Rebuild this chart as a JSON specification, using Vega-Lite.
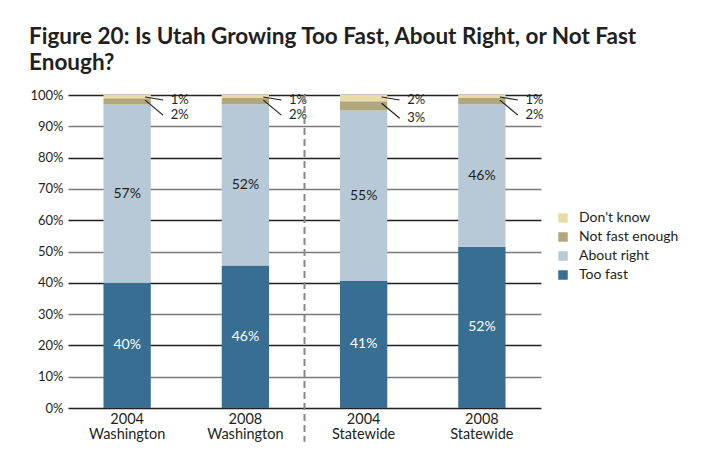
{
  "$schema": "https://vega.github.io/schema/vega-lite/v6.json",
  "width": 473,
  "height": 313,
  "autosize": {"type": "none"},
  "padding": {"left": 68, "top": 95, "right": 161, "bottom": 46},
  "background": "white",
  "title": {
    "text": ["Figure 20: Is Utah Growing Too Fast, About Right, or Not Fast", "Enough?"],
    "anchor": "start",
    "frame": "group",
    "dx": -39,
    "offset": 15,
    "font": "Lato",
    "fontSize": 22.5,
    "fontWeight": "bold",
    "color": "#231f20",
    "lineHeight": 26
  },
  "config": {
    "view": {"stroke": null},
    "text": {"font": "Lato"},
    "axis": {"labelFont": "Lato", "labelColor": "#231f20"},
    "legend": {"labelFont": "Lato", "labelColor": "#231f20"}
  },
  "data": {
    "values": [
      {"cat": "2004 Washington", "resp": "Too fast", "pct": 0.40, "rank": 1},
      {"cat": "2004 Washington", "resp": "About right", "pct": 0.57, "rank": 2},
      {"cat": "2004 Washington", "resp": "Not fast enough", "pct": 0.02, "rank": 3},
      {"cat": "2004 Washington", "resp": "Don't know", "pct": 0.01, "rank": 4},
      {"cat": "2008 Washington", "resp": "Too fast", "pct": 0.46, "rank": 1},
      {"cat": "2008 Washington", "resp": "About right", "pct": 0.52, "rank": 2},
      {"cat": "2008 Washington", "resp": "Not fast enough", "pct": 0.02, "rank": 3},
      {"cat": "2008 Washington", "resp": "Don't know", "pct": 0.01, "rank": 4},
      {"cat": "2004 Statewide", "resp": "Too fast", "pct": 0.41, "rank": 1},
      {"cat": "2004 Statewide", "resp": "About right", "pct": 0.55, "rank": 2},
      {"cat": "2004 Statewide", "resp": "Not fast enough", "pct": 0.03, "rank": 3},
      {"cat": "2004 Statewide", "resp": "Don't know", "pct": 0.02, "rank": 4},
      {"cat": "2008 Statewide", "resp": "Too fast", "pct": 0.52, "rank": 1},
      {"cat": "2008 Statewide", "resp": "About right", "pct": 0.46, "rank": 2},
      {"cat": "2008 Statewide", "resp": "Not fast enough", "pct": 0.02, "rank": 3},
      {"cat": "2008 Statewide", "resp": "Don't know", "pct": 0.01, "rank": 4}
    ]
  },
  "encoding": {
    "x": {
      "field": "cat",
      "type": "nominal",
      "sort": null,
      "scale": {"paddingInner": 0.6, "paddingOuter": 0.3},
      "axis": {
        "title": null,
        "labelAngle": 0,
        "labelExpr": "split(datum.label, ' ')",
        "labelFontSize": 14.5,
        "labelLineHeight": 15,
        "labelPadding": 4,
        "ticks": false,
        "domain": false
      }
    }
  },
  "layer": [
    {
      "mark": {"type": "bar"},
      "encoding": {
        "y": {
          "field": "pct",
          "type": "quantitative",
          "stack": "normalize",
          "scale": {"domain": [0, 1]},
          "axis": {
            "title": null,
            "values": [0, 0.1, 0.2, 0.3, 0.4, 0.5, 0.6, 0.7, 0.8, 0.9, 1],
            "tickCount": 12,
            "labelOverlap": false,
            "format": ".0%",
            "ticks": false,
            "domain": false,
            "grid": true,
            "gridWidth": 1.5,
            "gridColor": {"condition": {"test": "round(datum.value*10) % 2 === 0", "value": "#231f20"}, "value": "#7a7a7a"},
            "labelFontSize": 13,
            "labelPadding": 5
          }
        },
        "color": {
          "field": "resp",
          "type": "nominal",
          "scale": {
            "domain": ["Don't know", "Not fast enough", "About right", "Too fast"],
            "range": ["#e8dba9", "#b0a87c", "#b7c9d6", "#386e91"]
          },
          "legend": {
            "title": null,
            "orient": "none",
            "legendX": 488,
            "legendY": 116,
            "symbolType": "square",
            "symbolSize": 90,
            "symbolStrokeWidth": 0,
            "labelFontSize": 14,
            "labelOffset": 9,
            "rowPadding": 5
          }
        },
        "order": {"field": "rank", "type": "quantitative"}
      }
    },
    {
      "mark": {"type": "text", "fontSize": 14},
      "encoding": {
        "y": {"field": "pct", "type": "quantitative", "stack": "normalize", "bandPosition": 0.5},
        "detail": {"field": "resp"},
        "order": {"field": "rank", "type": "quantitative"},
        "text": {"field": "pct", "type": "quantitative", "format": ".0%", "condition": {"test": "datum.pct < 0.05", "value": ""}},
        "color": {"condition": {"test": "datum.resp === 'Too fast'", "value": "white"}, "value": "#231f20"}
      }
    },
    {
      "transform": [
        {"stack": "pct", "groupby": ["cat"], "sort": [{"field": "rank", "order": "ascending"}], "offset": "normalize", "as": ["s0", "s1"]},
        {"filter": "datum.resp === \"Don't know\""}
      ],
      "mark": {"type": "text", "fontSize": 13, "align": "left", "yOffset": 5, "color": "#231f20"},
      "encoding": {
        "x": {"field": "cat", "type": "nominal", "sort": null, "bandPosition": 1.42},
        "y": {"field": "s1", "type": "quantitative"},
        "text": {"field": "pct", "type": "quantitative", "format": ".0%"}
      }
    },
    {
      "transform": [
        {"stack": "pct", "groupby": ["cat"], "sort": [{"field": "rank", "order": "ascending"}], "offset": "normalize", "as": ["s0", "s1"]},
        {"filter": "datum.resp === 'Not fast enough'"}
      ],
      "mark": {"type": "text", "fontSize": 13, "align": "left", "yOffset": 17, "color": "#231f20"},
      "encoding": {
        "x": {"field": "cat", "type": "nominal", "sort": null, "bandPosition": 1.42},
        "y": {"field": "s1", "type": "quantitative"},
        "text": {"field": "pct", "type": "quantitative", "format": ".0%"}
      }
    },
    {
      "transform": [
        {"stack": "pct", "groupby": ["cat"], "sort": [{"field": "rank", "order": "ascending"}], "offset": "normalize", "as": ["s0", "s1"]},
        {"filter": "datum.resp === \"Don't know\""}
      ],
      "mark": {"type": "rule", "color": "#231f20", "strokeWidth": 1.2, "yOffset": 2, "y2Offset": 5, "x2Offset": 36},
      "encoding": {
        "x": {"field": "cat", "type": "nominal", "sort": null, "bandPosition": 0.88},
        "x2": {"field": "cat"},
        "y": {"field": "s1", "type": "quantitative"},
        "y2": {"field": "s1"}
      }
    },
    {
      "transform": [
        {"stack": "pct", "groupby": ["cat"], "sort": [{"field": "rank", "order": "ascending"}], "offset": "normalize", "as": ["s0", "s1"]},
        {"filter": "datum.resp === 'Not fast enough'"}
      ],
      "mark": {"type": "rule", "color": "#231f20", "strokeWidth": 1.2, "yOffset": 2, "y2Offset": 17, "x2Offset": 36},
      "encoding": {
        "x": {"field": "cat", "type": "nominal", "sort": null, "bandPosition": 0.88},
        "x2": {"field": "cat"},
        "y": {"field": "s1", "type": "quantitative"},
        "y2": {"field": "s1"}
      }
    },
    {
      "data": {"values": [{}]},
      "mark": {"type": "rule", "color": "#888888", "strokeWidth": 2, "strokeDash": [7, 4]},
      "encoding": {
        "x": {"datum": "2008 Washington", "type": "nominal", "bandPosition": 1.75},
        "y": {"datum": 1, "type": "quantitative"},
        "y2": {"datum": -0.108}
      }
    }
  ]
}
